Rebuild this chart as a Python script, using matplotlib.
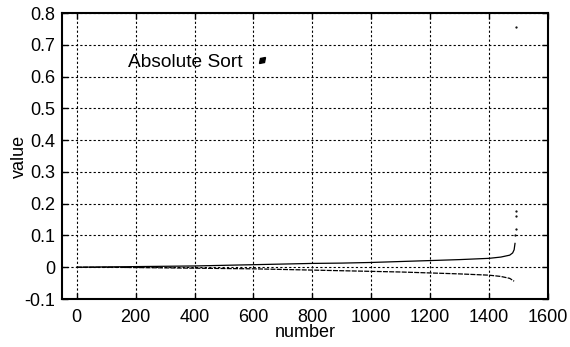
import matplotlib
matplotlib.use("Agg")
import matplotlib.pyplot as plt
from matplotlib.markers import MarkerStyle
from matplotlib.transforms import Affine2D
from matplotlib.ticker import FuncFormatter

plt.rcParams["font.family"] = ["Liberation Sans", "DejaVu Sans"]
plt.rcParams["axes.unicode_minus"] = False

# Positive branch of the absolute-sorted values
pos_index = [0, 100, 200, 300, 400, 500, 600, 700, 800, 900, 1000,
             1100, 1200, 1300, 1400, 1440, 1470, 1480, 1485, 1488]
pos_value = [0.0, 0.001, 0.002, 0.003, 0.004, 0.006, 0.008, 0.010, 0.012,
             0.013, 0.015, 0.018, 0.021, 0.024, 0.028, 0.032, 0.038,
             0.045, 0.055, 0.075]

# Negative branch
neg_index = [0, 100, 200, 300, 400, 500, 600, 700, 800, 900, 1000,
             1100, 1200, 1300, 1400, 1440, 1470, 1485]
neg_value = [0.0, 0.0, -0.001, -0.002, -0.003, -0.004, -0.005, -0.007,
             -0.009, -0.011, -0.013, -0.015, -0.018, -0.021, -0.025,
             -0.029, -0.035, -0.044]

# Isolated largest values at the end of the sort
tail_index = [1489, 1490, 1491, 1492, 1493]
tail_value = [0.103, 0.12, 0.16, 0.176, 0.755]

x_ticks = [0, 200, 400, 600, 800, 1000, 1200, 1400, 1600]
y_ticks = [-0.1, 0, 0.1, 0.2, 0.3, 0.4, 0.5, 0.6, 0.7, 0.8]

fs = 13

fig = plt.figure(figsize=(5.70, 3.47), dpi=100)
ax = fig.add_axes([0.1088, 0.1383, 0.8526, 0.8242])

ax.plot(pos_index, pos_value, color="black", linewidth=0.9)
ax.plot(neg_index, neg_value, color="black", linewidth=0.9, linestyle=(0, (4, 1)))
ax.plot(tail_index, tail_value, linestyle="none", marker=".", markersize=1.2,
        color="black")

ax.set_xlim(-50, 1600)
ax.set_ylim(-0.1, 0.8)
ax.set_xticks(x_ticks)
ax.set_yticks(y_ticks)
ax.yaxis.set_major_formatter(FuncFormatter(lambda v, p: "%g" % round(v, 2)))

ax.grid(True, color="black", linestyle=(0, (2, 2)), linewidth=0.8)
ax.tick_params(direction="in", top=True, right=True, labelsize=fs,
               length=4, width=1, colors="black")
ax.tick_params(axis="x", pad=7)
ax.tick_params(axis="y", pad=5)
for side in ax.spines.values():
    side.set_linewidth(1.5)

ax.set_xlabel("number", fontsize=fs, va="center")
ax.xaxis.set_label_coords(0.5, -0.118)
ax.set_ylabel("value", fontsize=fs, labelpad=-3)

slant = MarkerStyle("d", transform=Affine2D().rotate_deg(-50))
handle = plt.Line2D([], [], linestyle="none", marker=slant, markersize=4.5,
                    color="black")
ax.legend([handle], ["Absolute Sort"], loc=(0.12, 0.77), frameon=False,
          markerfirst=False, fontsize=13.8, handlelength=1.0,
          handletextpad=0.5)

fig.savefig("out.png", dpi=100)
